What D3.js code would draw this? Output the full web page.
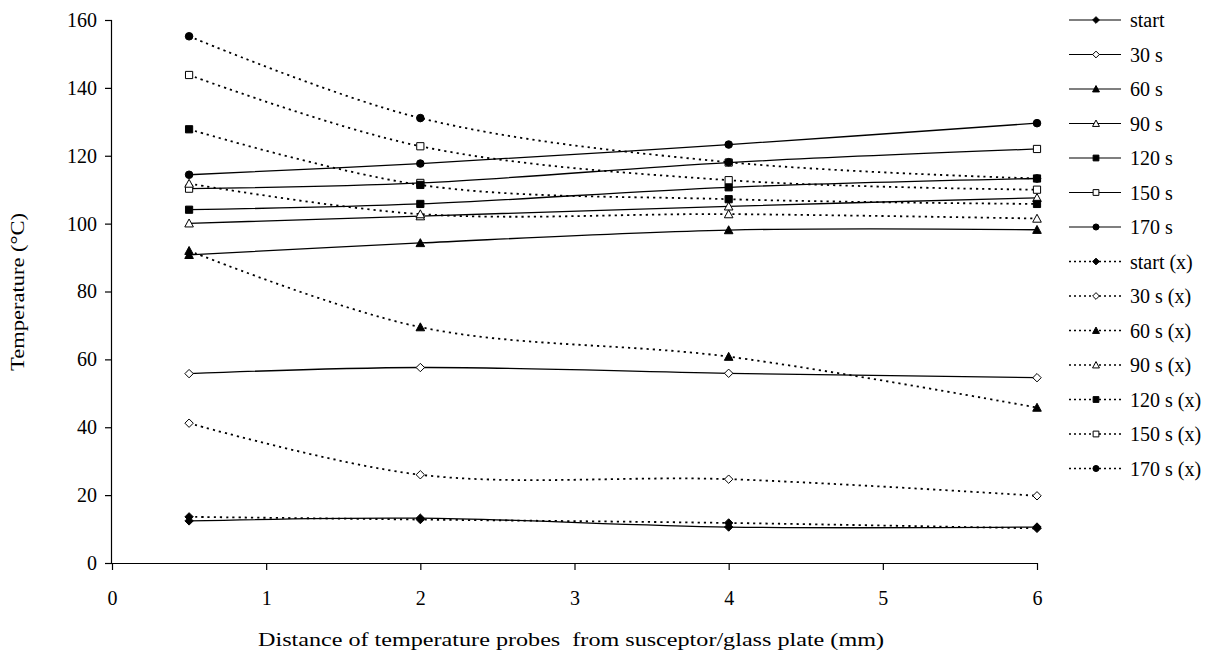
<!DOCTYPE html>
<html>
<head>
<meta charset="utf-8">
<script src="https://cdn.jsdelivr.net/npm/d3@7"></script>
<style>
  body { margin: 0; background: #fff; }
  svg text { font-family: "Liberation Serif", "Times New Roman", serif; fill: #000; }
</style>
</head>
<body>
<svg id="chart" width="1224" height="659"></svg>
<script>
// probe distances (mm)
var distances = [0.5, 2, 4, 6];
var xTicks = [0, 1, 2, 3, 4, 5, 6];
var yTicks = [0, 20, 40, 60, 80, 100, 120, 140, 160];

var seriesNames = ["start", "30 s", "60 s", "90 s", "120 s", "150 s", "170 s",
  "start (x)", "30 s (x)", "60 s (x)", "90 s (x)", "120 s (x)", "150 s (x)", "170 s (x)"];

var startVals   = [12.4, 13.2, 10.6, 10.6];
var s30Vals     = [55.8, 57.6, 55.9, 54.6];
var s60Vals     = [90.8, 94.3, 98.1, 98.2];
var s90Vals     = [100.1, 102.2, 105.1, 107.6];
var s120Vals    = [104.1, 105.8, 110.7, 113.3];
var s150Vals    = [110.3, 112.0, 118.0, 122.0];
var s170Vals    = [114.4, 117.7, 123.3, 129.6];
var startXVals  = [13.6, 12.8, 11.8, 10.2];
var s30XVals    = [41.2, 26.0, 24.7, 19.8];
var s60XVals    = [92.0, 69.5, 60.8, 45.8];
var s90XVals    = [111.8, 102.8, 102.8, 101.5];
var s120XVals   = [127.8, 111.4, 107.2, 105.8];
var s150XVals   = [143.8, 122.8, 112.8, 110.0];
var s170XVals   = [155.2, 131.1, 118.1, 113.3];

var allVals = [startVals, s30Vals, s60Vals, s90Vals, s120Vals, s150Vals, s170Vals,
  startXVals, s30XVals, s60XVals, s90XVals, s120XVals, s150XVals, s170XVals];

// marker per series: shape + filled
var markers = [["diamond", 1], ["diamond", 0], ["triangle", 1], ["triangle", 0],
  ["square", 1], ["square", 0], ["circle", 1]];

var svg = d3.select("#chart");
var x = d3.scaleLinear().domain([0, 6]).range([112, 1037]);
var y = d3.scaleLinear().domain([0, 160]).range([563, 20]);

function markerPath(shape, k) {
  k = k || 1;
  if (shape == "diamond") { var h = 4.2 * k; return "M0," + (-h) + "L" + h + ",0L0," + h + "L" + (-h) + ",0Z"; }
  if (shape == "square") { var s = 3.6 * k; return "M" + (-s) + "," + (-s) + "H" + s + "V" + s + "H" + (-s) + "Z"; }
  if (shape == "triangle") { var t = 4.3 * k; return "M0," + (-t) + "L" + t + "," + (t * 0.85) + "H" + (-t) + "Z"; }
  var r = 3.8 * k;
  return "M" + r + ",0A" + r + "," + r + " 0 1,1 " + (-r) + ",0A" + r + "," + r + " 0 1,1 " + r + ",0Z";
}

// axes
var yAxis = d3.axisLeft(y).tickValues(yTicks).tickFormat(d3.format("d")).tickSize(7).tickPadding(8);
var xAxis = d3.axisBottom(x).tickValues(xTicks).tickFormat(d3.format("d")).tickSize(7).tickPadding(21);
var gy = svg.append("g").attr("transform", "translate(112,0)").call(yAxis);
var gx = svg.append("g").attr("transform", "translate(0,563)").call(xAxis);
[gy, gx].forEach(function(g) {
  g.attr("font-family", null).attr("font-size", null);
  g.selectAll("path,line").attr("stroke", "#000").attr("stroke-width", 1.2);
  g.selectAll("text").style("font-size", "20px");
});
gx.select(".domain").attr("d", "M112,0.5H1037");
gy.select(".domain").attr("d", "M-0.5,563V20");

svg.append("text").attr("transform", "translate(24,292) rotate(-90)")
  .attr("text-anchor", "middle").style("font-size", "19px")
  .attr("textLength", 158).attr("lengthAdjust", "spacingAndGlyphs")
  .text("Temperature (°C)");
svg.append("text").attr("x", 571).attr("y", 646).attr("text-anchor", "middle")
  .style("font-size", "19px").style("white-space", "pre")
  .attr("textLength", 626).attr("lengthAdjust", "spacingAndGlyphs")
  .text("Distance of temperature probes  from susceptor/glass plate (mm)");

var line = d3.line().x(function(d) { return x(d[0]); }).y(function(d) { return y(d[1]); })
  .curve(d3.curveCatmullRom.alpha(0.5));

allVals.forEach(function(vals, i) {
  var dotted = i >= 7;
  var m = markers[i % 7];
  var pts = vals.map(function(v, j) { return [distances[j], v]; });
  var g = svg.append("g");
  g.append("path").attr("d", line(pts)).attr("fill", "none").attr("stroke", "#000")
    .attr("stroke-width", dotted ? 1.8 : 1.3)
    .attr("stroke-dasharray", dotted ? "2.2,4" : null);
  g.selectAll(".mk").data(pts).enter().append("path")
    .attr("transform", function(d) { return "translate(" + x(d[0]) + "," + y(d[1]) + ")"; })
    .attr("d", markerPath(m[0]))
    .attr("fill", m[1] ? "#000" : "#fff").attr("stroke", "#000").attr("stroke-width", 1);
});

// legend
var leg = svg.append("g");
seriesNames.forEach(function(name, i) {
  var dotted = i >= 7;
  var m = markers[i % 7];
  var ly = 20 + i * 34.5;
  leg.append("line").attr("x1", 1069).attr("x2", 1121).attr("y1", ly).attr("y2", ly)
    .attr("stroke", "#000").attr("stroke-width", dotted ? 1.6 : 1.2)
    .attr("stroke-dasharray", dotted ? "2,3" : null);
  leg.append("path").attr("transform", "translate(1096," + ly + ")").attr("d", markerPath(m[0], 0.8))
    .attr("fill", m[1] ? "#000" : "#fff").attr("stroke", "#000").attr("stroke-width", 1);
  leg.append("text").attr("x", 1130).attr("y", ly + 7).style("font-size", "20px").text(name);
});
</script>
</body>
</html>
